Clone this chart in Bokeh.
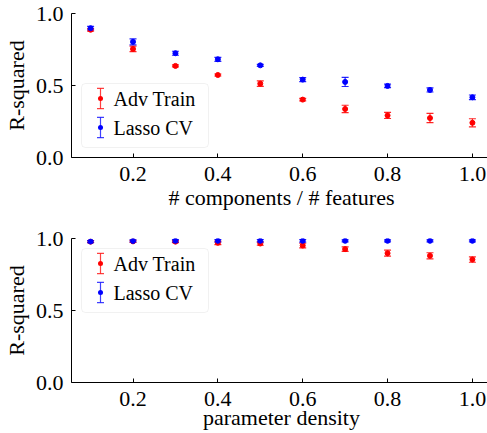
from bokeh.plotting import figure
from bokeh.models import (ColumnDataSource, Whisker, TeeHead, BoxAnnotation, Label, Range1d,
                          FixedTicker, CustomJSTickFormatter)
from bokeh.layouts import column
from bokeh.embed import file_html
from bokeh.resources import INLINE

# ---- data ----
x_vals = [0.1, 0.2, 0.3, 0.4, 0.5, 0.6, 0.7, 0.8, 0.9, 1.0]

top_adv_mean = [0.887, 0.754, 0.636, 0.573, 0.513, 0.402, 0.337, 0.292, 0.274, 0.241]
top_adv_err = [0.009, 0.019, 0.007, 0.007, 0.019, 0.009, 0.026, 0.021, 0.032, 0.028]
top_lasso_mean = [0.898, 0.803, 0.724, 0.682, 0.640, 0.541, 0.525, 0.497, 0.469, 0.418]
top_lasso_err = [0.012, 0.021, 0.014, 0.014, 0.007, 0.014, 0.032, 0.012, 0.014, 0.016]

bot_adv_mean = [0.978, 0.980, 0.978, 0.970, 0.965, 0.951, 0.926, 0.898, 0.880, 0.854]
bot_adv_err = [0.007, 0.007, 0.007, 0.012, 0.012, 0.016, 0.016, 0.021, 0.021, 0.019]
bot_lasso_mean = [0.979, 0.983, 0.984, 0.984, 0.984, 0.984, 0.984, 0.984, 0.984, 0.984]
bot_lasso_err = [0.007, 0.007, 0.009, 0.009, 0.009, 0.009, 0.007, 0.007, 0.007, 0.007]

x_ticks = [0.2, 0.4, 0.6, 0.8, 1.0]
y_ticks = [0.0, 0.5, 1.0]
series_names = ["Adv Train", "Lasso CV"]
series_colors = ["#ff0000", "#0000ff"]

FONT = "Liberation Serif"


def make_fig(xlabel, series, border_top, border_bottom, legend_top, xlab_standoff):
    p = figure(width=487, frame_width=420, frame_height=144,
               min_border_left=67, min_border_right=0,
               min_border_top=border_top, min_border_bottom=border_bottom,
               x_range=Range1d(0.055, 1.045), y_range=Range1d(0.0, 1.0),
               output_backend="svg", toolbar_location=None)
    p.outline_line_color = None
    p.grid.visible = False
    p.background_fill_color = "white"
    p.border_fill_color = "white"

    for ax in (p.xaxis[0], p.yaxis[0]):
        ax.major_tick_in = 4
        ax.major_tick_out = 0
        ax.minor_tick_line_color = None
        ax.major_label_text_font = FONT
        ax.major_label_text_font_size = "22px"
        ax.axis_label_text_font = FONT
        ax.axis_label_text_font_size = "22px"
        ax.axis_label_text_font_style = "normal"
        ax.axis_line_color = "black"
        ax.major_tick_line_color = "black"
        ax.major_label_text_color = "black"
        ax.axis_label_text_color = "black"

    p.xaxis.ticker = FixedTicker(ticks=x_ticks)
    p.yaxis.ticker = FixedTicker(ticks=y_ticks)
    p.xaxis.formatter = CustomJSTickFormatter(code="return tick.toFixed(1);")
    p.yaxis.formatter = CustomJSTickFormatter(code="return tick.toFixed(1);")
    p.xaxis.axis_label = xlabel
    p.yaxis.axis_label = "R-squared"
    p.xaxis.major_label_standoff = 9
    p.xaxis.axis_label_standoff = xlab_standoff
    p.yaxis.major_label_standoff = 8
    p.yaxis.axis_label_standoff = 4

    for (mean, err), color in zip(series, series_colors):
        lower = [m - e for m, e in zip(mean, err)]
        upper = [m + e for m, e in zip(mean, err)]
        src = ColumnDataSource(dict(x=x_vals, y=mean, lower=lower, upper=upper))
        w = Whisker(base="x", lower="lower", upper="upper", source=src,
                    dimension="height", line_color=color, line_alpha=0.85, line_width=1.2,
                    upper_head=TeeHead(size=7, line_color=color, line_alpha=0.85, line_width=1.2),
                    lower_head=TeeHead(size=7, line_color=color, line_alpha=0.85, line_width=1.2))
        p.add_layout(w)
        p.scatter("x", "y", source=src, size=5, color=color, line_color=color)

    # legend (frame-relative screen coords, y measured up from frame bottom)
    lb = legend_top - 64
    box = BoxAnnotation(left=10, right=137, bottom=lb, top=legend_top,
                        left_units="screen", right_units="screen",
                        bottom_units="screen", top_units="screen",
                        fill_color="white", fill_alpha=0.8,
                        line_color="#d0d0d0", line_width=1, border_radius=4)
    p.add_layout(box)
    for i, (name, color) in enumerate(zip(series_names, series_colors)):
        cy = legend_top - 15 - 29 * i
        cx = 29
        parts = [
            (cx - 0.6, cx + 0.6, cy - 10, cy + 10, 0),
            (cx - 3.5, cx + 3.5, cy + 9.5, cy + 10.7, 0),
            (cx - 3.5, cx + 3.5, cy - 10.7, cy - 9.5, 0),
            (cx - 2.5, cx + 2.5, cy - 2.5, cy + 2.5, 3),
        ]
        for (l, r, b, t, rad) in parts:
            p.add_layout(BoxAnnotation(left=l, right=r, bottom=b, top=t,
                                       left_units="screen", right_units="screen",
                                       bottom_units="screen", top_units="screen",
                                       fill_color=color, fill_alpha=0.75 if rad == 0 else 1.0,
                                       line_color=None, border_radius=rad))
        p.add_layout(Label(x=42, y=cy, x_units="screen", y_units="screen", text=name,
                           text_font=FONT, text_font_size="20px", text_baseline="middle",
                           text_color="black"))
    return p


p1 = make_fig("# components / # features",
              [(top_adv_mean, top_adv_err), (top_lasso_mean, top_lasso_err)],
              13, 62, 74, 1)
p2 = make_fig("parameter density",
              [(bot_adv_mean, bot_adv_err), (bot_lasso_mean, bot_lasso_err)],
              19, 51, 134, -4)

layout = column(p1, p2, spacing=0)
open("out.html", "w").write(file_html(layout, INLINE))
